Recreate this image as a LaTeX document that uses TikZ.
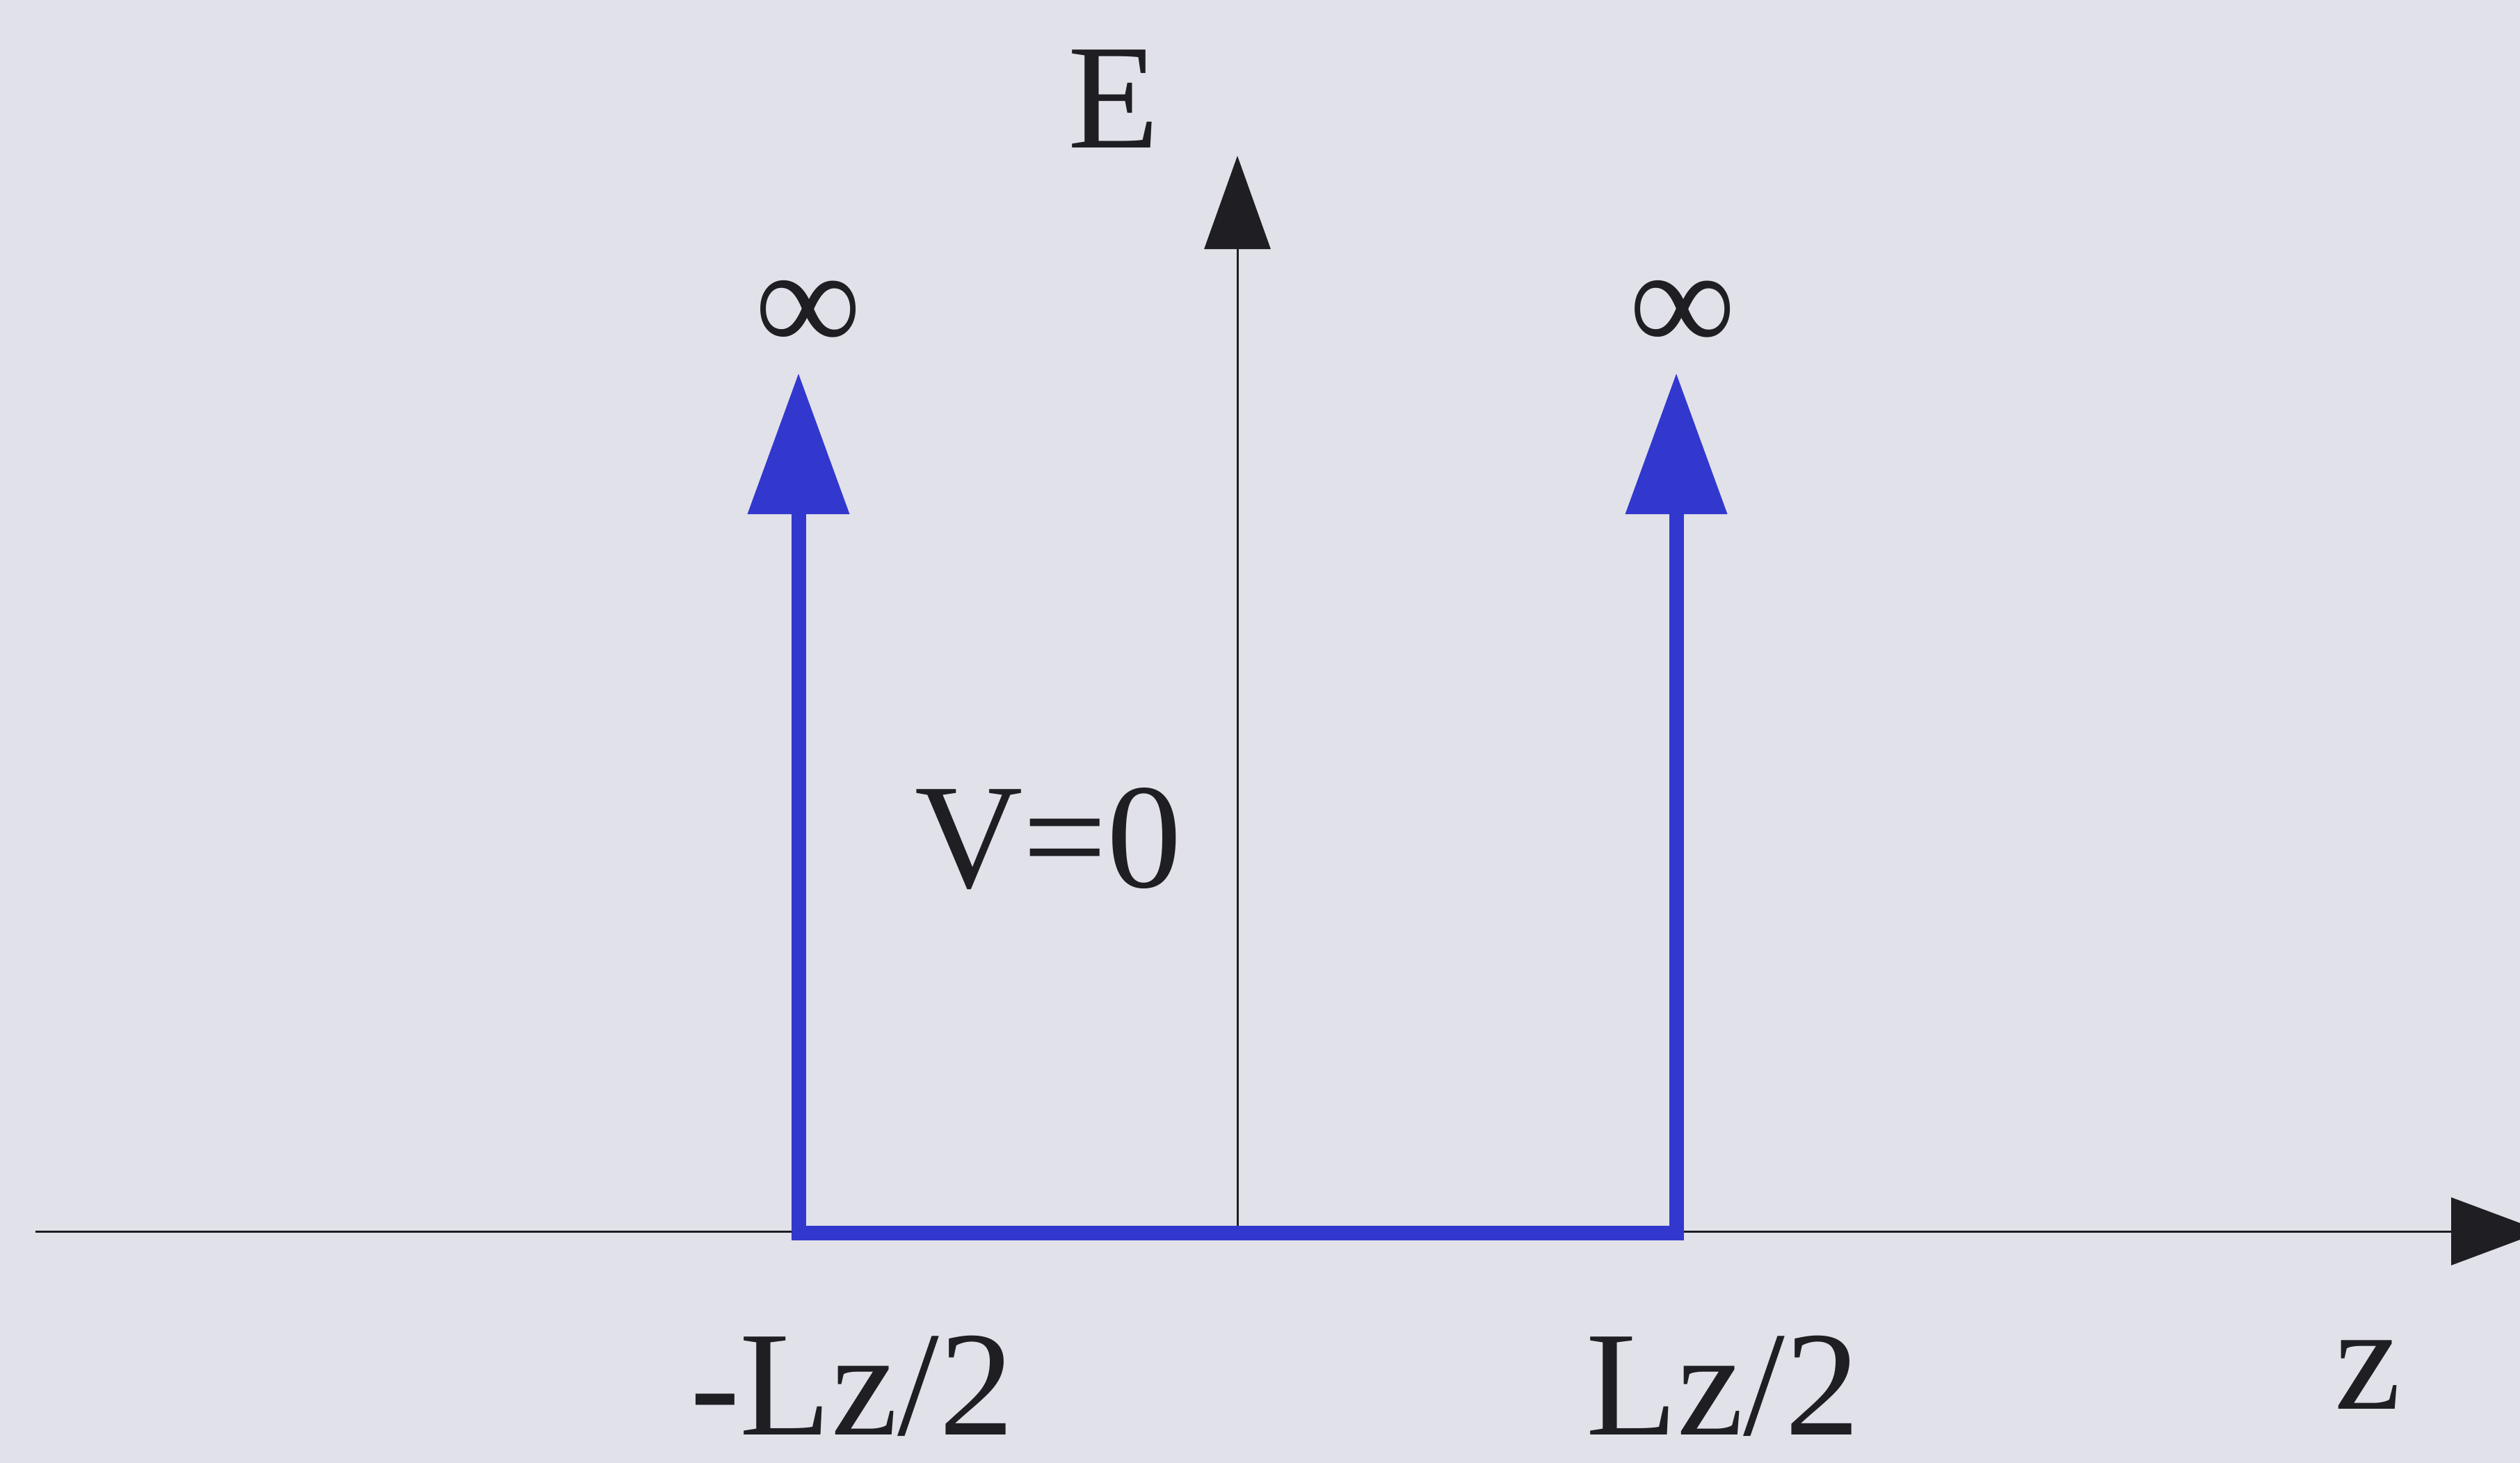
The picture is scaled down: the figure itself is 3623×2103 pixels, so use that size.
\documentclass[tikz,border=0pt]{standalone}
\usepackage{fontspec}
\setmainfont{Liberation Serif}
\usetikzlibrary{arrows.meta}
\definecolor{bgcol}{RGB}{225,225,234}
\definecolor{wellblue}{RGB}{50,56,205}
\definecolor{axiscol}{RGB}{30,30,35}
\tikzset{
  axisline/.style={draw=axiscol, line width=3pt},
  wellline/.style={draw=wellblue, line width=21pt, line join=miter},
  lbl/.style={inner sep=0pt, text=axiscol, font=\fontsize{215}{250}\selectfont}
}
\begin{document}
\begin{tikzpicture}[x=1pt,y=-1pt]
\fill[bgcol] (0,0) rectangle (3623,2103);
\useasboundingbox (0,0) rectangle (3623,2103);
% coordinates
\coordinate (zl) at (51,1770);
\coordinate (zr) at (3655,1770);
\coordinate (eb) at (1779,1770);
\coordinate (et) at (1779,224);
\coordinate (lt) at (1148,536);
\coordinate (lb) at (1148,1772);
\coordinate (rb) at (2410,1772);
\coordinate (rt) at (2410,536);
% axes
\draw[axisline, -{Triangle[length=131pt,width=97pt]}] (zl) -- (zr);
\draw[axisline, -{Triangle[length=134pt,width=95pt]}] (eb) -- (et);
% well
\draw[wellline, {Triangle[length=203pt,width=141pt,fill=wellblue]}-{Triangle[length=203pt,width=141pt,fill=wellblue]}] (lt) -- (lb) -- (rb) -- (rt);
% labels
\node[lbl] (Elbl) at (1601,142) {E};
\node[lbl] (infl) at (1162,455) {∞};
\node[lbl] (infr) at (2419,455) {∞};
\node[lbl] (vlbl) at (1507,1206) {V=0};
\node[lbl] (lmin) at (1225,1992) {-Lz/2};
\node[lbl] (lplu) at (2477,1992) {Lz/2};
\node[lbl] (zlbl) at (3404,1976) {z};
\end{tikzpicture}
\end{document}
